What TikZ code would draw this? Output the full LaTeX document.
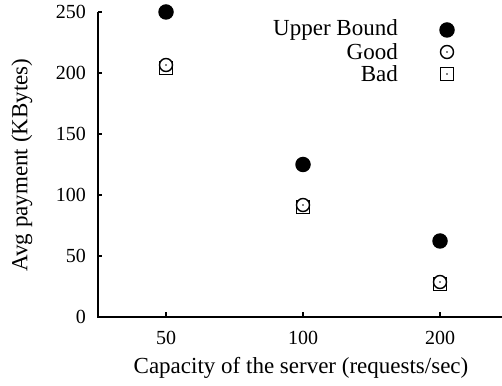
\documentclass[tikz,border=0pt]{standalone}
\usepackage{fontspec}
\setmainfont{Liberation Serif}
\begin{document}
\begin{tikzpicture}[x=1pt,y=1pt,
  axis/.style={line width=2.6pt},
  tickmark/.style={line width=2pt},
  lbl/.style={font=\fontsize{20}{22}\selectfont, inner sep=0pt},
  big/.style={font=\fontsize{23}{25}\selectfont, inner sep=0pt},
  ub/.style={circle, fill=black, minimum size=15.5pt, inner sep=0pt},
  good/.style={circle, draw=black, line width=1.4pt, fill=white, minimum size=13pt, inner sep=0pt},
  bad/.style={rectangle, draw=black, line width=1.4pt, fill=white, minimum size=13pt, inner sep=0pt},
  cdot/.style={circle, fill=black, minimum size=1.6pt, inner sep=0pt}
]
\useasboundingbox (0,0) rectangle (502,385);
% axes
\coordinate (o) at (98,68);
\coordinate (ytop) at (98,373);
\coordinate (xend) at (502,68);
\draw[axis] (ytop) -- (o) -- (xend);
% y ticks
\foreach \v/\yy in {0/68,50/129,100/190,150/251,200/312,250/373}{
  \draw[tickmark] (98,\yy) -- (102,\yy);
  \node[lbl, anchor=east] (yl\v) at (86,\yy) {\v};
}
% x ticks
\foreach \v/\xx in {50/166,100/303,200/440}{
  \draw[tickmark] (\xx,68) -- (\xx,73);
  \node[lbl, anchor=center] (xl\v) at (\xx,47) {\v};
}
% axis labels
\node[big, anchor=center] (xlab) at (301,17) {Capacity of the server (requests/sec)};
\node[big, anchor=center, rotate=90] (ylab) at (22,220) {Avg payment (KBytes)};
% data
\node[ub] (u1) at (166,373) {};
\node[ub] (u2) at (303,220.5) {};
\node[ub] (u3) at (440,144) {};
\node[bad] (b1) at (166,317) {}; \node[cdot] at (b1) {};
\node[good] (g1) at (166,320) {}; \node[cdot] at (g1) {};
\node[bad] (b2) at (303,178) {}; \node[cdot] at (b2) {};
\node[good] (g2) at (303,180) {}; \node[cdot] at (g2) {};
\node[bad] (b3) at (440,101) {}; \node[cdot] at (b3) {};
\node[good] (g3) at (440,103) {}; \node[cdot] at (g3) {};
% legend
\node[big, anchor=east] (lu) at (398,355) {Upper Bound};
\node[big, anchor=east] (lg) at (398,333) {Good};
\node[big, anchor=east] (lb) at (398,311) {Bad};
\node[ub] (mu) at (447,355) {};
\node[good] (mg) at (447,333) {}; \node[cdot] at (mg) {};
\node[bad] (mb) at (447,311) {}; \node[cdot] at (mb) {};
\end{tikzpicture}
\end{document}
